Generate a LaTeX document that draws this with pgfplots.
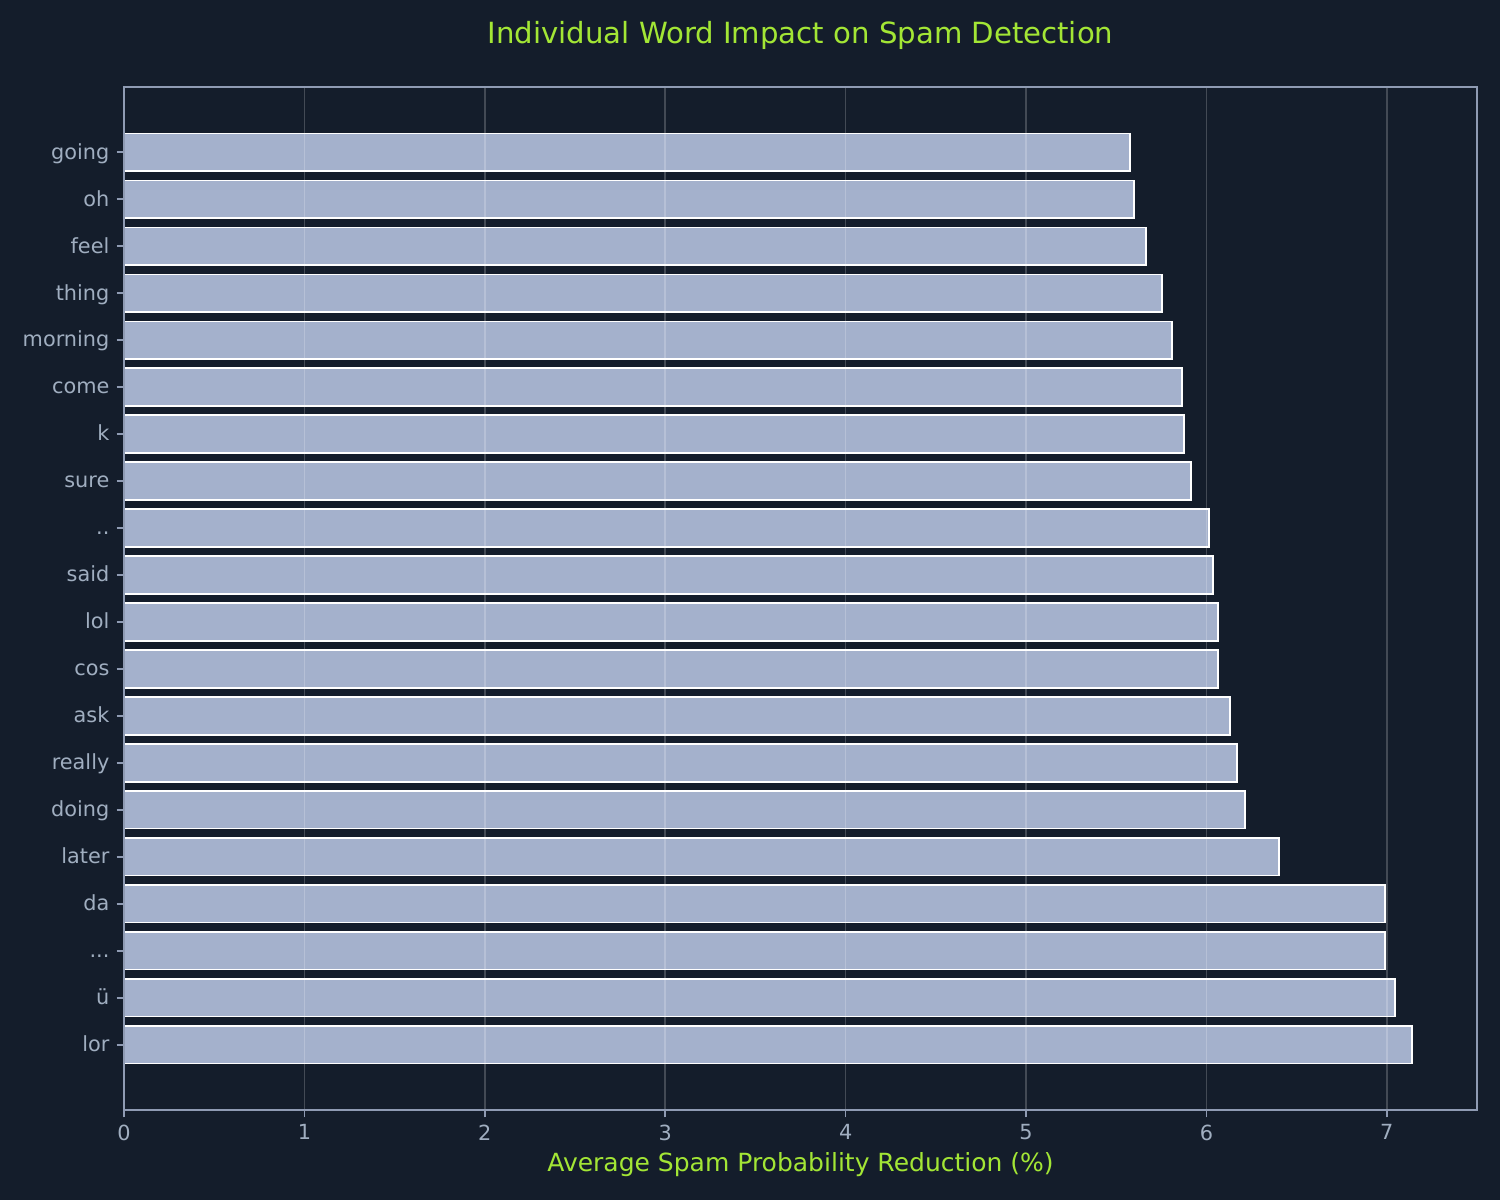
\documentclass[border=0pt]{standalone}
\usepackage{pgfplots}
\pgfplotsset{compat=1.18}
\usepackage{pgfplotstable}
\usepackage{fontspec}
\setmainfont{DejaVu Sans}
\definecolor{bg}{HTML}{141D2B}
\definecolor{barfill}{HTML}{A4B1CC}
\definecolor{spine}{HTML}{8F9BB3}
\definecolor{ticktext}{HTML}{A0AEC0}
\definecolor{lime}{HTML}{A3E635}
\pgfplotstableread{
idx word value
0 lor 7.138
1 ü 7.044
2 ... 6.989
3 da 6.989
4 later 6.402
5 doing 6.214
6 really 6.169
7 ask 6.131
8 cos 6.064
9 lol 6.064
10 said 6.036
11 .. 6.014
12 sure 5.915
13 k 5.876
14 come 5.865
15 morning 5.810
16 thing 5.754
17 feel 5.665
18 oh 5.599
19 going 5.577
}\datatable
\begin{document}
\begin{tikzpicture}[x=0.48bp,y=0.48bp]
\path[use as bounding box, fill=bg] (0,0) rectangle (1500,1200);
\begin{axis}[
  at={(59.52bp,43.2bp)}, anchor=south west,
  scale only axis, width=649.44bp, height=491.04bp,
  xmin=0, xmax=7.5, ymin=-1.39, ymax=20.39,
  xbar, bar width=0.8, bar shift=0pt,
  axis line style={spine, line width=0.8bp},
  tick style={spine, line width=0.8bp},
  major tick length=3.5bp,
  tick align=outside,
  xtick pos=bottom, ytick pos=left,
  xtick={0,...,7},
  ytick={0,...,19},
  yticklabels from table={\datatable}{word},
  xmajorgrids, grid style={white, opacity=0.2, line width=0.8bp},
  axis on top,
  ticklabel style={text=ticktext, font=\fontsize{10bp}{12bp}\selectfont},
  yticklabel style={text height=0.76em, text depth=0.1em},
  /pgf/number format/assume math mode=true,
]
\addplot[fill=barfill, draw=white, line width=0.8bp] table[x=value,y=idx]{\datatable};
\end{axis}
\node[text=lime, font=\fontsize{14bp}{17bp}\selectfont] at (800.5,1165) {Individual Word Impact on Spam Detection};
\node[text=lime, font=\fontsize{12bp}{14bp}\selectfont] at (800.5,35) {Average Spam Probability Reduction (\%)};
\end{tikzpicture}
\end{document}
